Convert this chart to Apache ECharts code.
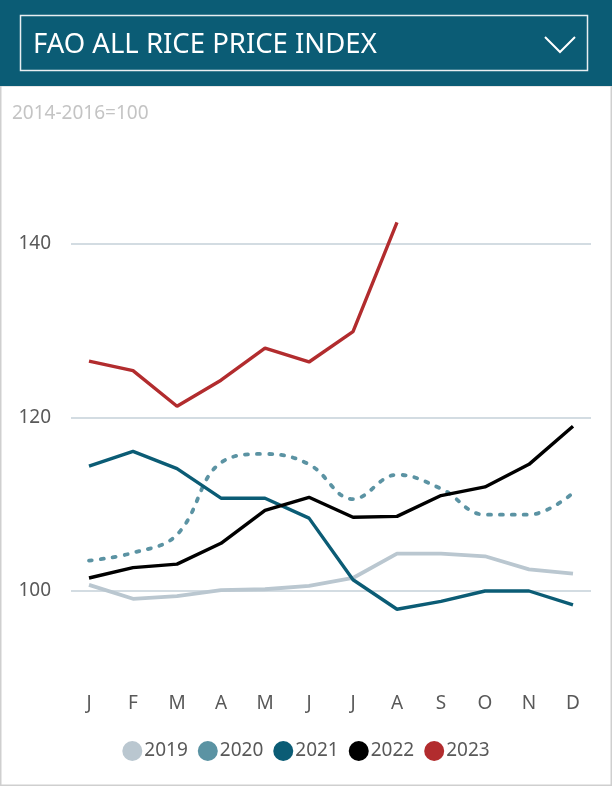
<!DOCTYPE html>
<html>
<head>
<meta charset="utf-8">
<script src="https://cdn.jsdelivr.net/npm/echarts@6/dist/echarts.min.js"></script>
<style>
html,body{margin:0;padding:0;background:#fff;}
#chart{width:612px;height:786px;}
</style>
</head>
<body>
<div id="chart"></div>
<script>
const months = ['J','F','M','A','M','J','J','A','S','O','N','D'];
const years = ['2019','2020','2021','2022','2023'];
const v2019 = [100.7, 99.1, 99.4, 100.1, 100.2, 100.6, 101.5, 104.3, 104.3, 104.0, 102.5, 102.0];
const v2020 = [103.5, 104.4, 106.5, 114.8, 115.8, 114.6, 110.6, 113.4, 111.8, 108.8, 108.8, 111.3];
const v2021 = [114.4, 116.1, 114.1, 110.7, 110.7, 108.4, 101.3, 97.9, 98.8, 100.0, 100.0, 98.4];
const v2022 = [101.5, 102.7, 103.1, 105.5, 109.3, 110.8, 108.5, 108.6, 111.0, 112.0, 114.6, 119.0];
const v2023 = [126.5, 125.4, 121.3, 124.3, 128.0, 126.4, 129.9, 142.5, null, null, null, null];
const yTicks = [100, 120, 140];

const colors = {'2019':'#BAC7D0','2020':'#5B93A3','2021':'#0B5C75','2022':'#000000','2023':'#B22C2E'};
const font = 'Noto Sans';

const chart = echarts.init(document.getElementById('chart'), null, {renderer:'canvas'});

function lineSeries(name, data, extra) {
  return Object.assign({
    name: name, type: 'line', data: data,
    xAxisIndex: 0, yAxisIndex: 0,
    symbol: 'none', showSymbol: false,
    lineStyle: {color: colors[name], width: 3.4},
    itemStyle: {color: colors[name]},
    emphasis: {disabled: true},
    z: 3
  }, extra || {});
}

const option = {
  animation: false,
  backgroundColor: '#fff',
  textStyle: {fontFamily: font},
  grid: [
    {left: 67, right: 17, top: 157.25, bottom: 108.25},
    {left: 71, right: 21, top: 157.25, bottom: 108.25}
  ],
  xAxis: [
    {type: 'category', gridIndex: 0, data: months, boundaryGap: true,
     axisLine: {show: false}, axisTick: {show: false},
     axisLabel: {color: '#595959', fontSize: 19, margin: 16, fontFamily: font}},
    {type: 'category', gridIndex: 1, data: months, show: false}
  ],
  yAxis: [
    {type: 'value', gridIndex: 0, min: 90, max: 150, show: false, splitLine: {show: false}},
    {type: 'value', gridIndex: 1, min: 90, max: 150, interval: 10,
     axisLine: {show: false}, axisTick: {show: false},
     axisLabel: {color: '#595959', fontSize: 19, margin: 20, fontFamily: font,
       formatter: function (v) { return yTicks.indexOf(v) >= 0 ? String(v) : ''; }},
     splitLine: {show: true, lineStyle: {color: ['rgba(0,0,0,0)', '#D3DCE2'], width: 2}}}
  ],
  legend: {
    data: years, bottom: 20, left: 'center',
    icon: 'circle', itemWidth: 20, itemHeight: 20, itemGap: 10,
    textStyle: {color: '#595959', fontSize: 19, fontFamily: font, padding: [0,0,0,-3]},
    selectedMode: false
  },
  series: [
    lineSeries('2019', v2019, {lineStyle: {color: colors['2019'], width: 3.8}}),
    lineSeries('2020', v2020, {smooth: 0.4, lineStyle: {color: colors['2020'], width: 3.8, type: [3, 9], cap: 'round'}}),
    lineSeries('2021', v2021),
    lineSeries('2022', v2022),
    lineSeries('2023', v2023),
    {type: 'line', xAxisIndex: 1, yAxisIndex: 1, data: [], silent: true}
  ],
  graphic: [
    {type: 'rect', shape: {x: 0, y: 85, width: 612, height: 701}, style: {fill: '#fff', stroke: '#CFCFCF', lineWidth: 3}, z: -10, silent: true},
    {type: 'rect', shape: {x: 0, y: 0, width: 612, height: 86}, style: {fill: '#0B5C75'}, z: 10, silent: true},
    {type: 'rect', shape: {x: 20.5, y: 15.5, width: 567, height: 55}, style: {fill: 'none', stroke: '#E8EEF1', lineWidth: 1.5}, z: 11, silent: true},
    {type: 'text', left: 33, top: 31, style: {text: 'FAO ALL RICE PRICE INDEX', fill: '#fff', fontSize: 27.5, fontFamily: font}, z: 12, silent: true},
    {type: 'polyline', shape: {points: [[545, 37], [560, 52], [575, 37]]}, style: {stroke: '#fff', lineWidth: 2, fill: 'none'}, z: 12, silent: true},
    {type: 'text', left: 12, top: 104, style: {text: '2014-2016=100', fill: '#C4C4C4', fontSize: 19, fontFamily: font}, z: 12, silent: true}
  ]
};
chart.setOption(option);
</script>
</body>
</html>
